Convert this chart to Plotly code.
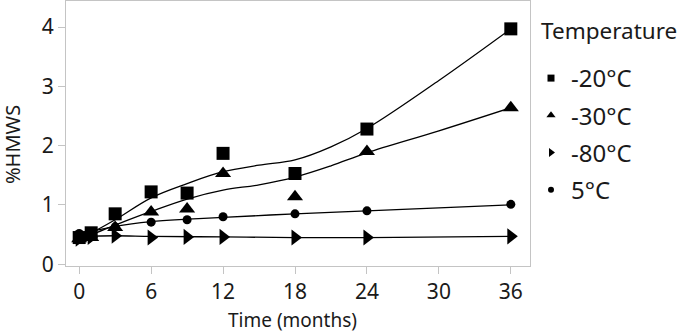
import plotly.graph_objects as go

# Measured data (time in months, %HMWS)
t_m20 = [0, 1, 3, 6, 9, 12, 18, 24, 36]
v_m20 = [0.45, 0.53, 0.85, 1.22, 1.20, 1.87, 1.53, 2.28, 3.97]

t_m30 = [0, 1, 3, 6, 9, 12, 18, 24, 36]
v_m30 = [0.43, 0.45, 0.62, 0.88, 0.93, 1.53, 1.14, 1.90, 2.64]

t_m80 = [0, 1, 3, 6, 9, 12, 18, 24, 36]
v_m80 = [0.43, 0.46, 0.48, 0.45, 0.46, 0.46, 0.45, 0.45, 0.47]

t_p5 = [0, 1, 3, 6, 9, 12, 18, 24, 36]
v_p5 = [0.52, 0.50, 0.63, 0.71, 0.75, 0.80, 0.85, 0.90, 1.01]

# Fitted smoothing curves
ct_m20 = [0, 1, 3, 6, 9, 12, 15, 18, 21, 24, 30, 36]
cv_m20 = [0.45, 0.53, 0.75, 1.12, 1.36, 1.56, 1.67, 1.76, 1.98, 2.29, 3.10, 3.97]

ct_m30 = [0, 1, 3, 6, 9, 12, 15, 18, 21, 24, 30, 36]
cv_m30 = [0.45, 0.50, 0.66, 0.89, 1.10, 1.25, 1.34, 1.47, 1.66, 1.88, 2.25, 2.64]

ct_m80 = [0, 3, 6, 12, 18, 24, 36]
cv_m80 = [0.47, 0.48, 0.47, 0.46, 0.45, 0.45, 0.47]

ct_p5 = [0, 1, 3, 6, 9, 12, 18, 24, 30, 36]
cv_p5 = [0.50, 0.55, 0.64, 0.72, 0.76, 0.79, 0.85, 0.90, 0.95, 1.00]

names = ["-20°C", "-30°C", "-80°C", "5°C"]
symbols = ["square", "triangle-up", "triangle-right", "circle"]
sizes = [13, 14, 14, 9]
legend_sizes = [7, 8, 8, 6]

x_ticks = [0, 6, 12, 18, 24, 30, 36]
y_ticks = [0, 1, 2, 3, 4]

FONT = "Noto Sans"
TXT = "#1a1a1a"
FRAME = "#c4c4c4"
series = [(t_m20, v_m20, ct_m20, cv_m20), (t_m30, v_m30, ct_m30, cv_m30),
          (t_m80, v_m80, ct_m80, cv_m80), (t_p5, v_p5, ct_p5, cv_p5)]

L, R, T, B = 66, 155, 1, 68
W, H = 685, 334
pw, ph = W - L - R, H - T - B

fig = go.Figure()
for (t, v, ct, cv) in series:
    fig.add_trace(go.Scatter(x=ct, y=cv, mode="lines",
                             line=dict(color="black", width=1.3, shape="spline", smoothing=1.0),
                             showlegend=False, hoverinfo="skip"))
for (t, v, ct, cv), name, sym, sz in zip(series, names, symbols, sizes):
    fig.add_trace(go.Scatter(x=t, y=v, mode="markers", name=name, showlegend=False,
                             marker=dict(symbol=sym, size=sz, color="black", line=dict(width=0))))
for i, (name, sym, ls) in enumerate(zip(names, symbols, legend_sizes)):
    fig.add_trace(go.Scatter(x=[None], y=[None], mode="markers", name=name, legendgroup=f"g{i}",
                             marker=dict(symbol=sym, size=ls, color="black", line=dict(width=0))))

fig.update_layout(
    width=W, height=H,
    margin=dict(l=L, r=R, t=T, b=B, autoexpand=False),
    paper_bgcolor="white", plot_bgcolor="white",
    font=dict(family=FONT, color=TXT, size=20),
    legend=dict(x=(531 - L) / pw, xanchor="left", y=1 - (56 - T) / ph, yanchor="top",
                font=dict(size=24, color=TXT), itemsizing="trace", tracegroupgap=3,
                bgcolor="rgba(0,0,0,0)"),
    xaxis=dict(range=[-1.1, 37.6], tickvals=x_ticks, ticktext=[str(x) for x in x_ticks],
               showgrid=False, zeroline=False, showline=True, mirror=True, linecolor=FRAME, linewidth=1.3,
               ticks="outside", ticklen=7, tickcolor=FRAME, tickwidth=1.3, automargin=False,
               tickfont=dict(size=21, color=TXT)),
    yaxis=dict(range=[-0.03, 4.44], tickvals=y_ticks, ticktext=[str(y) for y in y_ticks],
               showgrid=False, zeroline=False, showline=True, mirror=True, linecolor=FRAME, linewidth=1.3,
               ticks="outside", ticklen=7, tickcolor=FRAME, tickwidth=1.3, automargin=False,
               tickfont=dict(size=21, color=TXT)),
    annotations=[
        dict(text="Time (months)", xref="paper", yref="paper", x=(292 - L) / pw, y=-(320 - T - ph) / ph,
             xanchor="center", yanchor="middle", showarrow=False, font=dict(size=19, color=TXT)),
        dict(text="%HMWS", xref="paper", yref="paper", x=-(L - 12) / pw, y=1 - (145 - T) / ph,
             xanchor="center", yanchor="middle", showarrow=False, textangle=-90, font=dict(size=20, color=TXT)),
        dict(text="Temperature", xref="paper", yref="paper", x=(539 - L) / pw, y=1 - (31 - T) / ph,
             xanchor="left", yanchor="middle", showarrow=False, font=dict(size=22.5, color=TXT)),
    ],
)

fig.write_html("out.html", config={"displayModeBar": False},
               post_script="document.body.style.margin='0';document.body.style.padding='0';")
